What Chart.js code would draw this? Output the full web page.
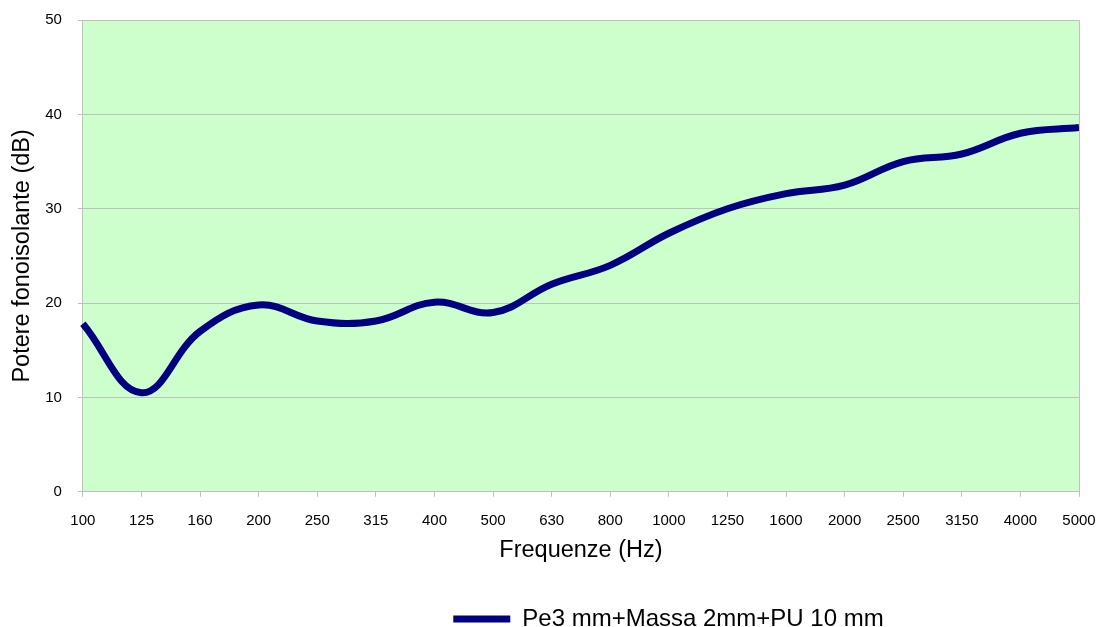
<!DOCTYPE html>
<html>
<head>
<meta charset="utf-8">
<script src="https://cdn.jsdelivr.net/npm/chart.js@4/dist/chart.umd.min.js"></script>
<style>
    html, body { margin: 0; padding: 0; background: #fff; }
    #chart { display: block; }
</style>
</head>
<body>
<canvas id="chart" width="1096" height="627"></canvas>
<script>
// dati del grafico
const frequenze = ['100', '125', '160', '200', '250', '315', '400', '500', '630', '800',
    '1000', '1250', '1600', '2000', '2500', '3150', '4000', '5000'];
const potere = [17.8, 10.5, 17.0, 19.8, 18.1, 18.1, 20.1, 19.0, 22.0, 24.0,
    27.4, 30.0, 31.6, 32.5, 35.0, 35.8, 38.0, 38.6];
const serieLabel = 'Pe3 mm+Massa 2mm+PU 10 mm';
const yTicks = [0, 10, 20, 30, 40, 50];

const FONT = '"Liberation Sans", Arial, sans-serif';
const GRID = '#C0C0C0';

// sfondo verde + bordo destro dell'area del grafico
const plotArea = {
    id: 'plotArea',
    beforeDraw(chart) {
        const { ctx, chartArea: a } = chart;
        ctx.save();
        ctx.fillStyle = '#CCFFCC';
        ctx.fillRect(a.left, a.top, a.right - a.left, a.bottom - a.top);
        ctx.restore();
    },
    afterDatasetsDraw(chart) {
        const { ctx, chartArea: a } = chart;
        ctx.save();
        ctx.strokeStyle = GRID;
        ctx.lineWidth = 1;
        ctx.beginPath();
        ctx.moveTo(a.right + 0.5, a.top);
        ctx.lineTo(a.right + 0.5, a.bottom);
        ctx.stroke();
        ctx.restore();
    }
};

// legenda spostata a destra e in basso come nell'originale
const legendShift = {
    id: 'legendShift',
    afterLayout(chart) {
        const lg = chart.legend;
        lg.left += 125;
        lg.right += 125;
        lg.top += 14;
        lg.bottom += 14;
    }
};

new Chart(document.getElementById('chart'), {
    type: 'line',
    data: {
        labels: frequenze,
        datasets: [{
            label: serieLabel,
            data: potere,
            borderColor: '#000080',
            backgroundColor: '#000080',
            borderWidth: 7,
            borderCapStyle: 'butt',
            pointRadius: 0,
            tension: 0.4,
            fill: false
        }]
    },
    options: {
        responsive: false,
        animation: false,
        layout: { padding: { top: 20, right: 17, left: 8, bottom: 0 } },
        plugins: {
            legend: {
                position: 'bottom',
                labels: {
                    usePointStyle: true,
                    pointStyle: 'line',
                    pointStyleWidth: 57,
                    color: '#000',
                    padding: 4,
                    font: { family: FONT, size: 24 }
                }
            },
            tooltip: { enabled: false }
        },
        scales: {
            x: {
                offset: false,
                afterFit(axis) {
                    axis.paddingLeft = 0;
                    axis.paddingRight = 0;
                },
                grid: {
                    drawOnChartArea: false,
                    drawTicks: true,
                    tickLength: 5,
                    color: GRID
                },
                border: { color: GRID },
                ticks: {
                    color: '#000',
                    padding: 15,
                    maxRotation: 0,
                    font: { family: FONT, size: 15 }
                },
                title: {
                    display: true,
                    text: 'Frequenze (Hz)',
                    color: '#000',
                    padding: { top: -8, bottom: 24 },
                    font: { family: FONT, size: 23.5 }
                }
            },
            y: {
                min: 0,
                max: 50,
                afterBuildTicks(axis) {
                    axis.ticks = yTicks.map(v => ({ value: v }));
                },
                afterFit(axis) {
                    axis.paddingTop = 0;
                    axis.paddingBottom = 0;
                },
                grid: {
                    color: GRID,
                    tickLength: 5
                },
                border: { color: GRID },
                ticks: {
                    color: '#000',
                    padding: 16,
                    font: { family: FONT, size: 15 }
                },
                title: {
                    display: true,
                    text: 'Potere fonoisolante (dB)',
                    color: '#000',
                    padding: { top: 0, bottom: -7 },
                    font: { family: FONT, size: 23.5 }
                }
            }
        }
    },
    plugins: [plotArea, legendShift]
});
</script>
</body>
</html>
